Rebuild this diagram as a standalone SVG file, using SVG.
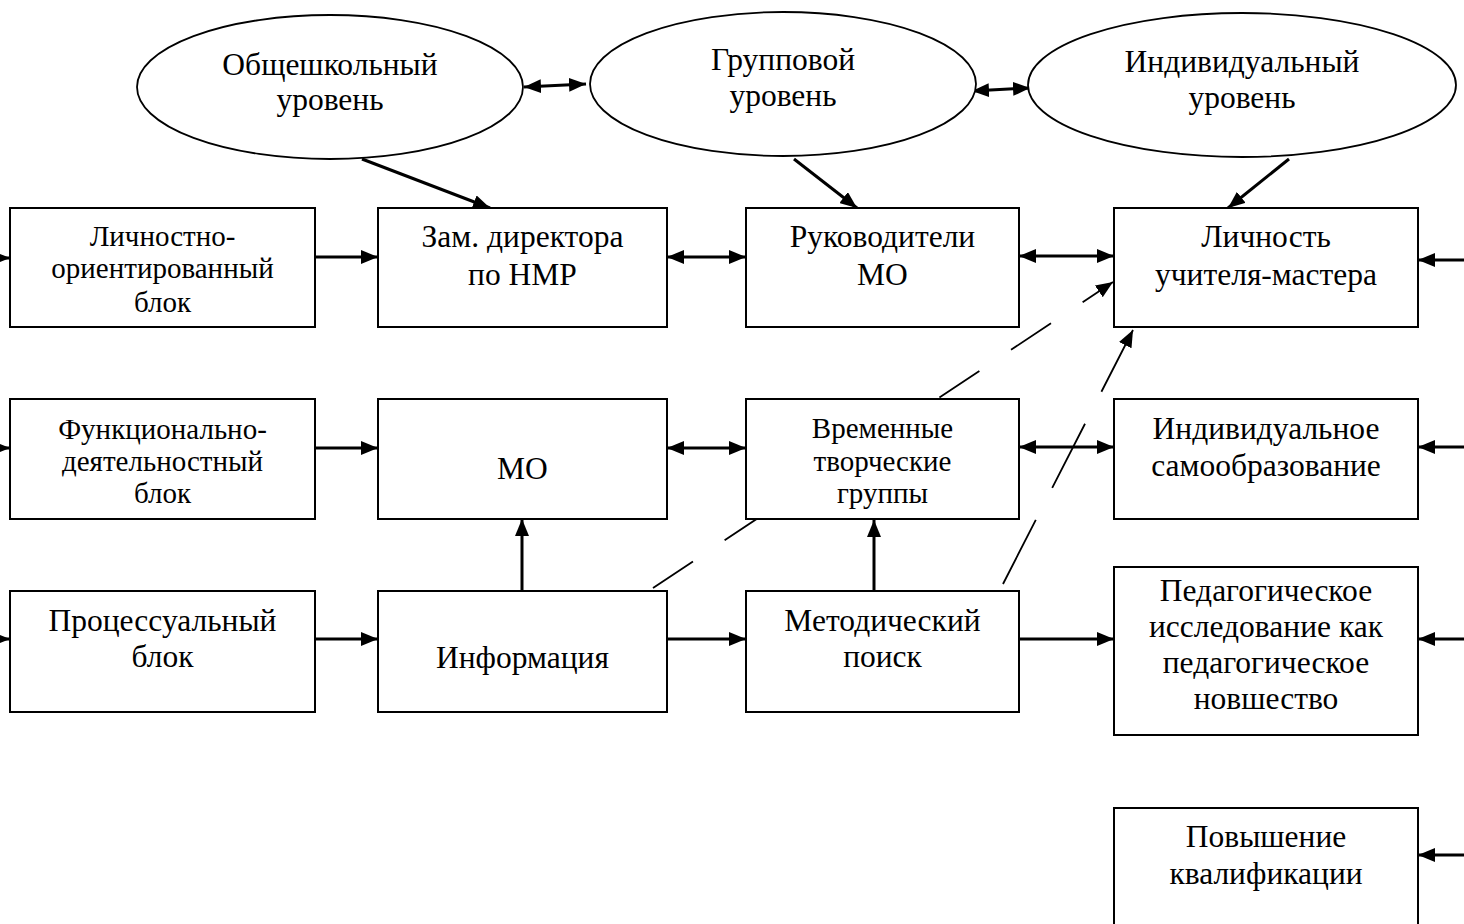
<svg xmlns="http://www.w3.org/2000/svg" width="1464" height="924" viewBox="0 0 1464 924">
<defs>
<marker id="ah" viewBox="0 0 17 14" refX="17" refY="7" markerWidth="17" markerHeight="14" markerUnits="userSpaceOnUse" orient="auto-start-reverse">
<path d="M0,0 L17,7 L0,14 z" fill="#000"/>
</marker>
<style>
.box{fill:#fff;stroke:#000;stroke-width:2}
.ell{fill:#fff;stroke:#000;stroke-width:1.8}
.t{font-family:"Liberation Serif","Times New Roman",serif;font-size:31.5px;text-anchor:middle;fill:#000}
.s{font-size:29px}
.c{fill:none;stroke:#000;stroke-width:3}
.d{fill:none;stroke:#000;stroke-width:1.8}
</style>
</defs>
<rect width="1464" height="924" fill="#fff"/>
<g id="connectors">
<line class="c" x1="524" y1="87" x2="586" y2="84" marker-start="url(#ah)" marker-end="url(#ah)"/>
<line class="c" x1="972" y1="91" x2="1030" y2="88" marker-start="url(#ah)" marker-end="url(#ah)"/>
<line class="c" x1="362" y1="159" x2="490" y2="208" marker-end="url(#ah)"/>
<line class="c" x1="794" y1="159" x2="857" y2="208" marker-end="url(#ah)"/>
<line class="c" x1="1289" y1="159" x2="1228" y2="208" marker-end="url(#ah)"/>
<line class="c" x1="-30" y1="258" x2="10" y2="258" marker-end="url(#ah)"/>
<line class="c" x1="-30" y1="448" x2="10" y2="448" marker-end="url(#ah)"/>
<line class="c" x1="-30" y1="639" x2="10" y2="639" marker-end="url(#ah)"/>
<line class="c" x1="1490" y1="260" x2="1418" y2="260" marker-end="url(#ah)"/>
<line class="c" x1="1490" y1="447" x2="1418" y2="447" marker-end="url(#ah)"/>
<line class="c" x1="1490" y1="639" x2="1418" y2="639" marker-end="url(#ah)"/>
<line class="c" x1="1490" y1="855" x2="1418" y2="855" marker-end="url(#ah)"/>
<line class="c" x1="315" y1="257" x2="378" y2="257" marker-end="url(#ah)"/>
<line class="c" x1="667" y1="257" x2="746" y2="257" marker-start="url(#ah)" marker-end="url(#ah)"/>
<line class="c" x1="1019" y1="256" x2="1114" y2="256" marker-start="url(#ah)" marker-end="url(#ah)"/>
<line class="c" x1="315" y1="448" x2="378" y2="448" marker-end="url(#ah)"/>
<line class="c" x1="667" y1="448" x2="746" y2="448" marker-start="url(#ah)" marker-end="url(#ah)"/>
<line class="c" x1="1019" y1="447" x2="1114" y2="447" marker-start="url(#ah)" marker-end="url(#ah)"/>
<line class="c" x1="315" y1="639" x2="378" y2="639" marker-end="url(#ah)"/>
<line class="c" x1="667" y1="639" x2="746" y2="639" marker-end="url(#ah)"/>
<line class="c" x1="1019" y1="639" x2="1114" y2="639" marker-end="url(#ah)"/>
<line class="c" x1="522" y1="591" x2="522" y2="519" marker-end="url(#ah)"/>
<line class="c" x1="874" y1="591" x2="874" y2="520" marker-end="url(#ah)"/>
<line class="d" x1="653" y1="588" x2="1113" y2="282" stroke-dasharray="48 38" marker-end="url(#ah)"/>
<line class="d" x1="1003" y1="584" x2="1133" y2="330" stroke-dasharray="72 36" marker-end="url(#ah)"/>
</g>
<g id="e-school"><ellipse class="ell" cx="330" cy="87" rx="193" ry="72"/><text class="t" x="330" y="75">Общешкольный</text><text class="t" x="330" y="110">уровень</text></g>
<g id="e-group"><ellipse class="ell" cx="783" cy="84" rx="193" ry="72"/><text class="t" x="783" y="70">Групповой</text><text class="t" x="783" y="106">уровень</text></g>
<g id="e-indiv"><ellipse class="ell" cx="1242" cy="85" rx="214" ry="72"/><text class="t" x="1242" y="72">Индивидуальный</text><text class="t" x="1242" y="108">уровень</text></g>

<g id="n-lichn"><rect class="box" x="10" y="208" width="305" height="119"/><text class="t s" x="162.5" y="246">Личностно-</text><text class="t s" x="162.5" y="278">ориентированный</text><text class="t s" x="162.5" y="312">блок</text></g>
<g id="n-zam"><rect class="box" x="378" y="208" width="289" height="119"/><text class="t" x="522.5" y="247">Зам. директора</text><text class="t" x="522.5" y="285">по НМР</text></g>
<g id="n-ruk"><rect class="box" x="746" y="208" width="273" height="119"/><text class="t" x="882.5" y="247">Руководители</text><text class="t" x="882.5" y="285">МО</text></g>
<g id="n-master"><rect class="box" x="1114" y="208" width="304" height="119"/><text class="t" x="1266" y="247">Личность</text><text class="t" x="1266" y="285">учителя-мастера</text></g>

<g id="n-func"><rect class="box" x="10" y="399" width="305" height="120"/><text class="t s" x="162.5" y="439">Функционально-</text><text class="t s" x="162.5" y="471">деятельностный</text><text class="t s" x="162.5" y="503">блок</text></g>
<g id="n-mo"><rect class="box" x="378" y="399" width="289" height="120"/><text class="t" x="522.5" y="479">МО</text></g>
<g id="n-vtg"><rect class="box" x="746" y="399" width="273" height="120"/><text class="t s" x="882.5" y="438">Временные</text><text class="t s" x="882.5" y="471">творческие</text><text class="t s" x="882.5" y="503">группы</text></g>
<g id="n-self"><rect class="box" x="1114" y="399" width="304" height="120"/><text class="t" x="1266" y="439">Индивидуальное</text><text class="t" x="1266" y="476">самообразование</text></g>

<g id="n-proc"><rect class="box" x="10" y="591" width="305" height="121"/><text class="t" x="162.5" y="631">Процессуальный</text><text class="t" x="162.5" y="667">блок</text></g>
<g id="n-info"><rect class="box" x="378" y="591" width="289" height="121"/><text class="t" x="522.5" y="668">Информация</text></g>
<g id="n-search"><rect class="box" x="746" y="591" width="273" height="121"/><text class="t" x="882.5" y="631">Методический</text><text class="t" x="882.5" y="667">поиск</text></g>
<g id="n-research"><rect class="box" x="1114" y="567" width="304" height="168"/><text class="t" x="1266" y="601">Педагогическое</text><text class="t" x="1266" y="637">исследование как</text><text class="t" x="1266" y="673">педагогическое</text><text class="t" x="1266" y="709">новшество</text></g>
<g id="n-qual"><rect class="box" x="1114" y="808" width="304" height="130"/><text class="t" x="1266" y="847">Повышение</text><text class="t" x="1266" y="884">квалификации</text></g>
</svg>
